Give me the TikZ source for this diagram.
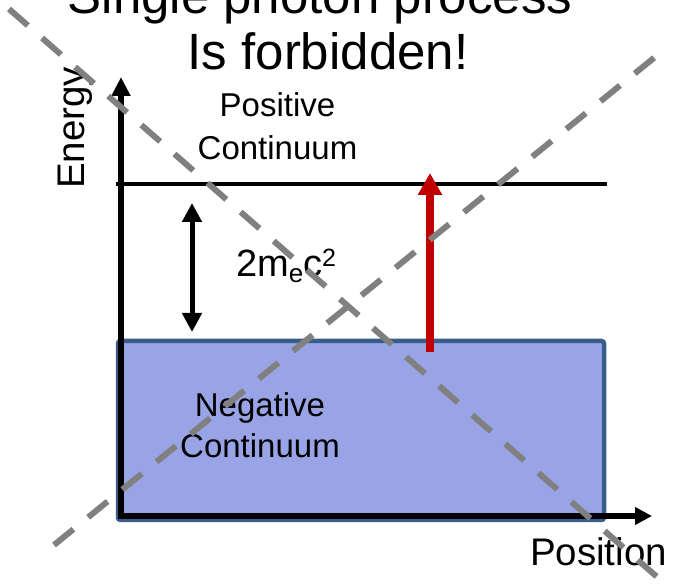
\documentclass[tikz,border=0pt]{standalone}
\usepackage{fontspec}
\setmainfont{Liberation Sans}
\usetikzlibrary{arrows.meta}
\definecolor{negfill}{RGB}{153,164,230}
\definecolor{negline}{RGB}{56,93,138}
\definecolor{photonred}{RGB}{192,0,0}
\definecolor{crossgrey}{RGB}{128,128,128}
\tikzset{
  lbl/.style={inner sep=0pt, outer sep=0pt, anchor=base, text=black},
  titlefont/.style={font=\fontsize{51}{61}\selectfont},
  bigfont/.style={font=\fontsize{33}{43}\selectfont, align=center},
  axisfont/.style={font=\fontsize{38.5}{44}\selectfont},
  negbox/.style={draw=negline, fill=negfill, line width=4.5pt, rounded corners=2.5pt,
    inner sep=0pt, outer sep=0pt, minimum width=486pt, minimum height=179pt},
  axisline/.style={line width=5.5pt, line join=miter},
  levelline/.style={line width=4pt},
  gaparrow/.style={line width=5pt, {Triangle[length=19pt,width=19pt]}-{Triangle[length=19pt,width=19pt]}},
  photon/.style={draw=photonred, line width=8pt, -{Triangle[length=22pt,width=23pt]}},
  crossout/.style={draw=crossgrey, line width=6pt, dash pattern=on 25pt off 19pt},
}
\begin{document}
\begin{tikzpicture}[x=1pt,y=-1pt]
\useasboundingbox (0,0) rectangle (673,585);
% negative continuum band
\node[negbox] (neg) at (361,430.5) {};
% coordinates
\coordinate (ytip) at (121,77);
\coordinate (xtip) at (652,516);
\coordinate (levelL) at (116,184);
\coordinate (levelR) at (607,184);
\coordinate (gaptop) at (192,203);
\coordinate (gapbot) at (192,332);
\coordinate (photonstart) at (430,352);
\coordinate (photonend) at (430,173);
\coordinate (a1) at (9,9);
\coordinate (a2) at (664,583);
\coordinate (b1) at (54,545);
\coordinate (b2) at (660,53);
% axes
\draw[axisline, {Triangle[length=19pt,width=18pt]}-{Triangle[length=17pt,width=17pt]}] (ytip) |- (xtip);
% upper level
\draw[levelline] (levelL) -- (levelR);
% gap arrow
\draw[gaparrow] (gaptop) -- (gapbot);
% photon arrow
\draw[photon] (photonstart) -- (photonend);
% texts
\node[lbl, titlefont] (title1) at (320,14) {Single photon process};
\node[lbl, titlefont] (title2) at (328,70) {Is forbidden!};
\node[lbl, bigfont] (poscont) at (277.5,160) {Positive\\Continuum};
\node[lbl, bigfont, font=\fontsize{33}{41}\selectfont] (negcont) at (260,458) {Negative\\Continuum};
\node[lbl, axisfont, rotate=90, anchor=base west] (energy) at (84,189) {Energy};
\node[lbl, axisfont, anchor=base west] (position) at (530,566) {Position};
\node[lbl, anchor=base west, font=\fontsize{38}{44}\selectfont] (gaplabel) at (236,277)
  {2m\raisebox{-6pt}{\fontsize{26}{30}\selectfont e}c\raisebox{10pt}{\fontsize{25}{28}\selectfont 2}};
% cross-out lines
\draw[crossout] (a1) -- (a2);
\draw[crossout] (b1) -- (b2);
\end{tikzpicture}
\end{document}
